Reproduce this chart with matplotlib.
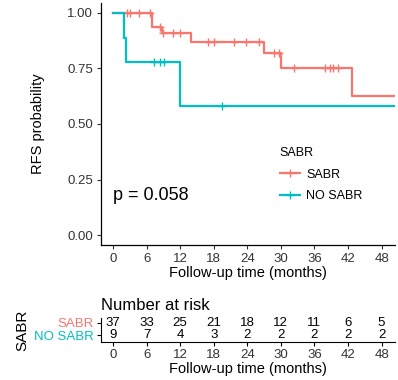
import matplotlib.pyplot as plt

plt.rcParams['font.family'] = ['Liberation Sans', 'DejaVu Sans']

# Kaplan-Meier step data
sabr_times = [0, 6.95, 8.7, 13.9, 26.9, 30.0, 42.7, 50.4]
sabr_surv = [1.0, 0.938, 0.908, 0.869, 0.818, 0.75, 0.626, 0.626]
sabr_cens_t = [2.5, 3.05, 4.7, 6.6, 8.4, 9.0, 10.7, 12.0, 16.9, 18.0, 21.6, 23.7, 26.1,
               28.8, 29.7, 32.3, 37.9, 38.8, 39.3, 40.2]

nosabr_times = [0, 2.0, 2.3, 12.0, 50.4]
nosabr_surv = [1.0, 0.889, 0.778, 0.583, 0.583]
nosabr_cens_t = [7.4, 8.4, 9.2, 19.4]

risk_times = [0, 6, 12, 18, 24, 30, 36, 42, 48]
risk_sabr = [37, 33, 25, 21, 18, 12, 11, 6, 5]
risk_nosabr = [9, 7, 4, 3, 2, 2, 2, 2, 2]

RED = '#F8766D'
CYAN = '#00BFC4'


def surv_at(t, times, surv):
    s = surv[0]
    for ti, si in zip(times, surv):
        if ti <= t:
            s = si
    return s


fig = plt.figure(figsize=(3.98, 3.8), dpi=100)
ax = fig.add_axes([100.7 / 398, 1 - 245 / 380, (395 - 100.7) / 398, (245 - 3) / 380])

for times, surv, cens, col, lab in [
    (sabr_times, sabr_surv, sabr_cens_t, RED, 'SABR'),
    (nosabr_times, nosabr_surv, nosabr_cens_t, CYAN, 'NO SABR'),
]:
    ax.step(times, surv, where='post', color=col, lw=1.6)
    cy = [surv_at(t, times, surv) for t in cens]
    ax.plot(cens, cy, ls='none', marker='+', ms=6, mew=1.0, color=col)
    ax.plot([], [], color=col, lw=1.6, marker='+', ms=6, mew=1.0, label=lab)

ax.set_xlim(-2.2, 50.4)
ax.set_ylim(-0.045, 1.045)
ax.set_xticks(risk_times)
ax.set_yticks([0, 0.25, 0.5, 0.75, 1.0])
ax.set_yticklabels(['0.00', '0.25', '0.50', '0.75', '1.00'])
for s in ['top', 'right']:
    ax.spines[s].set_visible(False)
for s in ['left', 'bottom']:
    ax.spines[s].set_linewidth(0.9)
ax.tick_params(labelsize=9.5, colors='#333333', length=3, width=0.8, pad=2.5)
ax.set_xlabel('Follow-up time (months)', fontsize=10.5, labelpad=1)
ax.set_ylabel('RFS probability', fontsize=10.5, labelpad=16)

ax.text(0, 0.18, 'p = 0.058', fontsize=13, va='center', ha='left')

leg = ax.legend(title='SABR', loc='upper left', bbox_to_anchor=(0.57, 0.45),
                frameon=False, fontsize=9, title_fontsize=9,
                handlelength=1.6, handletextpad=0.5, labelspacing=0.75)
leg._legend_box.align = 'left'

# risk table
rt = fig.add_axes([100.7 / 398, 1 - 342 / 380, (395 - 100.7) / 398, 24 / 380])
rt.set_xlim(-2.2, 50.4)
rt.set_ylim(0.5, 2.5)
for t, a, b in zip(risk_times, risk_sabr, risk_nosabr):
    rt.text(t, 2.1, str(a), ha='center', va='center', fontsize=9.5)
    rt.text(t, 1.05, str(b), ha='center', va='center', fontsize=9.5)
rt.set_xticks(risk_times)
rt.set_yticks([1.05, 2.1])
rt.set_yticklabels(['NO SABR', 'SABR'])
for lbl, col in zip(rt.get_yticklabels(), [CYAN, RED]):
    lbl.set_color(col)
for s in ['top', 'right']:
    rt.spines[s].set_visible(False)
rt.tick_params(labelsize=9.5, length=3, width=0.8, pad=2)
rt.tick_params(axis='x', labelcolor='#333333')
rt.set_xlabel('Follow-up time (months)', fontsize=10.5, labelpad=1)
rt.set_title('Number at risk', loc='left', fontsize=12, pad=6, x=0)
fig.text(22 / 398, 1 - 330 / 380, 'SABR', rotation=90, fontsize=11, ha='center', va='center')

fig.savefig('out.png', dpi=100)
